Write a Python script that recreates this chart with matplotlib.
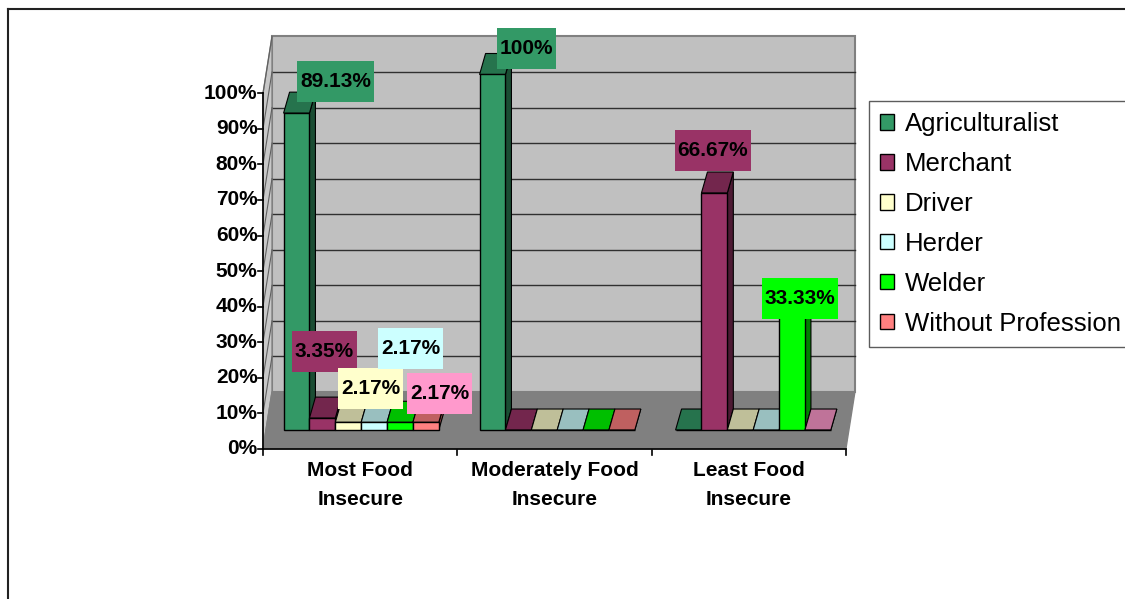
import matplotlib
matplotlib.use("Agg")
import matplotlib.pyplot as plt
import matplotlib.colors as mcolors
from matplotlib.patches import Polygon, Rectangle, Patch
from matplotlib.lines import Line2D

plt.rcParams['font.family'] = ['Liberation Sans', 'DejaVu Sans']

categories = ["Most Food\nInsecure", "Moderately Food\nInsecure", "Least Food\nInsecure"]
professions = ["Agriculturalist", "Merchant", "Driver", "Herder", "Welder", "Without Profession"]
agriculturalist = [89.13, 100, 0]
merchant = [3.35, 0, 66.67]
driver = [2.17, 0, 0]
herder = [2.17, 0, 0]
welder = [2.17, 0, 33.33]
without_profession = [2.17, 0, 0]
y_ticks = list(range(0, 101, 10))

series = [agriculturalist, merchant, driver, herder, welder, without_profession]
colors = ["#339966", "#993366", "#FFFFCC", "#CCFFFF", "#00FF00", "#FF8080"]
point_colors = {(5, 2): "#FF99CC"}   # single point filled differently in the sheet

# labelled points: series index, category index, box fill, box centre (data units)
labels = [
    (0, 0, "#339966", (-0.128, 98.1)),
    (0, 1, "#339966", (0.844, 107.4)),
    (1, 0, "#993366", (-0.186, 22.1)),
    (2, 0, "#FFFFCC", (0.048, 11.7)),
    (3, 0, "#CCFFFF", (0.253, 22.9)),
    (5, 0, "#FF99CC", (0.401, 10.3)),
    (1, 2, "#993366", (1.796, 78.6)),
    (4, 2, "#00FF00", (2.240, 37.1)),
]

# fake 3d geometry
BAR_W = 0.132
GROUP_OFF = -0.395
DX, DY = 0.0306, 5.9          # depth of a bar
FX0, FX1, BX0, BX1 = -0.5, 2.474, -0.454, 2.52   # floor corners (front/back)
FY, BY = -5.3, 10.7           # front and back zero level
FS = 15


def shade(c, f):
    r, g, b = mcolors.to_rgb(c)
    return (r * f, g * f, b * f)


fig = plt.figure(figsize=(11.25, 5.99), dpi=100)
ax = fig.add_axes([263 / 1125, 0.2228, 588 / 1125, 0.7419])
ax.set_xlim(-0.5, 2.5)
ax.set_ylim(-10, 115)
ax.set_axis_off()

# walls and floor
ax.add_patch(Polygon([(BX0, BY), (BX1, BY), (BX1, BY + 100), (BX0, BY + 100)],
                     fc="#C0C0C0", ec="#808080", lw=1.5, zorder=1, clip_on=False))
for v in y_ticks[1:-1]:
    ax.plot([BX0, BX1], [BY + v, BY + v], color="#303030", lw=1, zorder=2, clip_on=False)
ax.add_patch(Polygon([(FX0, FY), (FX0, FY + 100), (BX0, BY + 100), (BX0, BY)],
                     fc="#C8C8C8", ec="#808080", lw=1, zorder=2, clip_on=False))
for v in y_ticks[1:]:
    ax.plot([FX0, BX0], [FY + v, BY + v], color="#606060", lw=0.8, zorder=3, clip_on=False)
ax.add_patch(Polygon([(FX0, FY), (FX1, FY), (BX1, BY), (BX0, BY)],
                     fc="#808080", ec="#808080", lw=1, zorder=3, clip_on=False))

# front value axis
ax.plot([FX0, FX0], [FY, FY + 100], color="black", lw=1.2, zorder=5, clip_on=False)
for v in y_ticks:
    ax.plot([FX0 - 0.026, FX0], [FY + v, FY + v], color="black", lw=1.2, zorder=5, clip_on=False)
    ax.text(FX0 - 0.028, FY + v, f"{v}%", ha="right", va="center",
            fontsize=FS, fontweight="bold", clip_on=False)

# category axis
ax.plot([FX0, FX1], [FY, FY], color="black", lw=1.2, zorder=5, clip_on=False)
step = (FX1 - FX0) / len(categories)
for k in range(len(categories) + 1):
    ax.plot([FX0 + k * step] * 2, [FY, FY - 1.8], color="black", lw=1.2, clip_on=False)
for k, name in enumerate(categories):
    ax.text(FX0 + (k + 0.5) * step, -8.6, name, ha="center", va="top",
            fontsize=FS, fontweight="bold", linespacing=1.7, clip_on=False)

# bars, left to right so later ones cover the side faces
for i in range(len(categories)):
    for j, vals in enumerate(series):
        v = vals[i]
        c = point_colors.get((j, i), colors[j])
        z = 10 + i * 6 + j
        x0 = i + GROUP_OFF + j * BAR_W
        x1 = x0 + BAR_W
        ax.add_patch(Polygon([(x1, 0), (x1 + DX, DY), (x1 + DX, v + DY), (x1, v)],
                             fc=shade(c, 0.5), ec="black", lw=0.8, zorder=z))
        ax.add_patch(Polygon([(x0, v), (x1, v), (x1 + DX, v + DY), (x0 + DX, v + DY)],
                             fc=shade(c, 0.75), ec="black", lw=0.8, zorder=z))
        ax.bar(x0, v, width=BAR_W, align="edge", color=c, edgecolor="black", lw=1, zorder=z)

# data labels with Excel-like boxes
texts = []
for j, i, fill, (lx, ly) in labels:
    t = ax.text(lx, ly, f"{series[j][i]:g}%", ha="center", va="center",
                fontsize=FS, fontweight="bold", zorder=101, clip_on=False)
    texts.append((t, fill))
fig.canvas.draw()
r = fig.canvas.get_renderer()
inv = ax.transData.inverted()
for t, fill in texts:
    bb = t.get_window_extent(r)
    cx, cy = (bb.x0 + bb.x1) / 2, (bb.y0 + bb.y1) / 2
    w, h = bb.width + 6, 41
    (ax0, ay0), (ax1, ay1) = inv.transform([(cx - w / 2, cy - h / 2), (cx + w / 2, cy + h / 2)])
    ax.add_patch(Rectangle((ax0, ay0), ax1 - ax0, ay1 - ay0, fc=fill, ec="none",
                           zorder=100, clip_on=False))

# legend
handles = [Patch(fc=c, ec="black", lw=1) for c in colors]
leg = fig.legend(handles, professions, loc="upper left", bbox_to_anchor=(869 / 1125, 1 - 101 / 599),
                 fontsize=18.5, frameon=True, fancybox=False, borderaxespad=0,
                 handlelength=0.55, handleheight=0.55, handletextpad=0.43,
                 labelspacing=0.62, borderpad=0.43)
leg.get_frame().set_edgecolor("#333333")
leg.get_frame().set_linewidth(1)

# chart area border
fig.add_artist(Line2D([8 / 1125, 8 / 1125], [0, 1 - 9 / 599], color="#222222", lw=1.5))
fig.add_artist(Line2D([8 / 1125, 1], [1 - 9 / 599, 1 - 9 / 599], color="#222222", lw=1.5))

fig.savefig("out.png", dpi=100)
